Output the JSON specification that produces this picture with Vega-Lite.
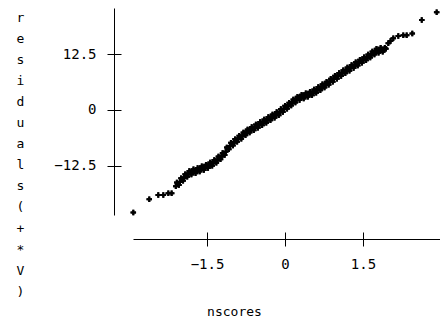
{
  "$schema": "https://vega.github.io/schema/vega-lite/v6.json",
  "width": 307,
  "height": 207,
  "autosize": "none",
  "padding": {"left": 133, "top": 8, "right": 0, "bottom": 110},
  "config": {
    "view": {"stroke": null},
    "axis": {"grid": false, "domainColor": "black", "tickColor": "black", "labelColor": "black", "titleColor": "black", "labelFont": "DejaVu Sans Mono", "titleFont": "DejaVu Sans Mono", "labelFontSize": 14, "titleFontSize": 13, "titleFontWeight": "normal"}
  },
  "data": {"values": [
    {"n": -2.917, "r": -22.9}, {"n": -2.61, "r": -19.9}, {"n": -2.437, "r": -19.0}, {"n": -2.34, "r": -19.0}, {"n": -2.244, "r": -18.6}, {"n": -2.18, "r": -18.6},
    {"n": -2.10, "r": -17.0}, {"n": -2.06, "r": -16.4}, {"n": -2.02, "r": -16.1}, {"n": -1.98, "r": -15.4}, {"n": -1.94, "r": -15.2}, {"n": -1.90, "r": -14.5},
    {"n": -1.86, "r": -14.3}, {"n": -1.82, "r": -13.9}, {"n": -1.78, "r": -13.9}, {"n": -1.74, "r": -13.6}, {"n": -1.70, "r": -13.6}, {"n": -1.66, "r": -13.3},
    {"n": -1.62, "r": -13.2}, {"n": -1.58, "r": -12.9}, {"n": -1.54, "r": -12.9}, {"n": -1.50, "r": -12.5}, {"n": -1.46, "r": -12.4}, {"n": -1.42, "r": -12.0},
    {"n": -1.38, "r": -11.9}, {"n": -1.34, "r": -11.4}, {"n": -1.30, "r": -11.2}, {"n": -1.26, "r": -10.6}, {"n": -1.22, "r": -10.4}, {"n": -1.18, "r": -9.8},
    {"n": -1.14, "r": -9.3}, {"n": -1.10, "r": -8.4}, {"n": -1.06, "r": -8.1}, {"n": -1.02, "r": -7.5}, {"n": -0.98, "r": -7.3}, {"n": -0.94, "r": -6.7},
    {"n": -0.90, "r": -6.5}, {"n": -0.86, "r": -6.0}, {"n": -0.82, "r": -5.8}, {"n": -0.78, "r": -5.2}, {"n": -0.74, "r": -5.1}, {"n": -0.70, "r": -4.6},
    {"n": -0.66, "r": -4.5}, {"n": -0.62, "r": -4.1}, {"n": -0.58, "r": -3.95}, {"n": -0.54, "r": -3.5}, {"n": -0.50, "r": -3.4}, {"n": -0.46, "r": -2.95},
    {"n": -0.42, "r": -2.85}, {"n": -0.38, "r": -2.4}, {"n": -0.34, "r": -2.3}, {"n": -0.30, "r": -1.85}, {"n": -0.26, "r": -1.7}, {"n": -0.22, "r": -1.3},
    {"n": -0.18, "r": -1.15}, {"n": -0.14, "r": -0.75}, {"n": -0.10, "r": -0.55}, {"n": -0.06, "r": -0.05}, {"n": -0.02, "r": 0.15}, {"n": 0.02, "r": 0.7},
    {"n": 0.06, "r": 0.85}, {"n": 0.10, "r": 1.4}, {"n": 0.14, "r": 1.6}, {"n": 0.18, "r": 2.1}, {"n": 0.22, "r": 2.25}, {"n": 0.26, "r": 2.7},
    {"n": 0.30, "r": 2.75}, {"n": 0.34, "r": 3.05}, {"n": 0.38, "r": 3.1}, {"n": 0.42, "r": 3.4}, {"n": 0.46, "r": 3.45}, {"n": 0.50, "r": 3.75},
    {"n": 0.54, "r": 3.85}, {"n": 0.58, "r": 4.3}, {"n": 0.62, "r": 4.4}, {"n": 0.66, "r": 4.85}, {"n": 0.70, "r": 5.0}, {"n": 0.74, "r": 5.45},
    {"n": 0.78, "r": 5.6}, {"n": 0.82, "r": 6.05}, {"n": 0.86, "r": 6.25}, {"n": 0.90, "r": 6.7}, {"n": 0.94, "r": 6.9}, {"n": 0.98, "r": 7.35},
    {"n": 1.02, "r": 7.55}, {"n": 1.06, "r": 8.0}, {"n": 1.10, "r": 8.2}, {"n": 1.14, "r": 8.6}, {"n": 1.18, "r": 8.8}, {"n": 1.22, "r": 9.2},
    {"n": 1.26, "r": 9.35}, {"n": 1.30, "r": 9.75}, {"n": 1.34, "r": 9.95}, {"n": 1.38, "r": 10.35}, {"n": 1.42, "r": 10.5}, {"n": 1.46, "r": 10.95},
    {"n": 1.50, "r": 11.1}, {"n": 1.54, "r": 11.5}, {"n": 1.58, "r": 11.7}, {"n": 1.62, "r": 12.1}, {"n": 1.66, "r": 12.3}, {"n": 1.70, "r": 12.8},
    {"n": 1.74, "r": 13.0}, {"n": 1.78, "r": 13.3}, {"n": 1.82, "r": 13.3}, {"n": 1.86, "r": 13.45}, {"n": 1.90, "r": 13.5}, {"n": 1.94, "r": 13.65},
    {"n": 1.987, "r": 14.9}, {"n": 2.03, "r": 15.4}, {"n": 2.083, "r": 16.0}, {"n": 2.179, "r": 16.5}, {"n": 2.275, "r": 16.7}, {"n": 2.34, "r": 16.7},
    {"n": 2.448, "r": 17.1}, {"n": 2.63, "r": 20.1}, {"n": 2.917, "r": 21.8},
    {"n": -2.08, "r": -16.2}, {"n": -2.04, "r": -16.75}, {"n": -2.00, "r": -15.25}, {"n": -1.96, "r": -15.8}, {"n": -1.92, "r": -14.35}, {"n": -1.88, "r": -14.9},
    {"n": -1.84, "r": -13.6}, {"n": -1.80, "r": -14.4}, {"n": -1.76, "r": -13.25}, {"n": -1.72, "r": -14.1}, {"n": -1.68, "r": -12.95}, {"n": -1.64, "r": -13.75},
    {"n": -1.60, "r": -12.55}, {"n": -1.56, "r": -13.4}, {"n": -1.52, "r": -12.2}, {"n": -1.48, "r": -12.95}, {"n": -1.44, "r": -11.7}, {"n": -1.40, "r": -12.45},
    {"n": -1.36, "r": -11.15}, {"n": -1.32, "r": -11.8}, {"n": -1.28, "r": -10.4}, {"n": -1.24, "r": -11.0}, {"n": -1.20, "r": -9.6}, {"n": -1.16, "r": -10.05},
    {"n": -1.12, "r": -8.35}, {"n": -1.08, "r": -8.75}, {"n": -1.04, "r": -7.3}, {"n": -1.00, "r": -7.9}, {"n": -0.96, "r": -6.5}, {"n": -0.92, "r": -7.1},
    {"n": -0.88, "r": -5.75}, {"n": -0.84, "r": -6.4}, {"n": -0.80, "r": -5.0}, {"n": -0.76, "r": -5.65}, {"n": -0.72, "r": -4.35}, {"n": -0.68, "r": -5.05},
    {"n": -0.64, "r": -3.8}, {"n": -0.60, "r": -4.53}, {"n": -0.56, "r": -3.23}, {"n": -0.52, "r": -3.95}, {"n": -0.48, "r": -2.68}, {"n": -0.44, "r": -3.4},
    {"n": -0.40, "r": -2.13}, {"n": -0.36, "r": -2.85}, {"n": -0.32, "r": -1.58}, {"n": -0.28, "r": -2.28}, {"n": -0.24, "r": -1.0}, {"n": -0.20, "r": -1.73},
    {"n": -0.16, "r": -0.45}, {"n": -0.12, "r": -1.15}, {"n": -0.08, "r": 0.2}, {"n": -0.04, "r": -0.45}, {"n": 0.00, "r": 0.93}, {"n": 0.04, "r": 0.28},
    {"n": 0.08, "r": 1.63}, {"n": 0.12, "r": 1.0}, {"n": 0.16, "r": 2.35}, {"n": 0.20, "r": 1.68}, {"n": 0.24, "r": 2.98}, {"n": 0.28, "r": 2.23},
    {"n": 0.32, "r": 3.4}, {"n": 0.36, "r": 2.58}, {"n": 0.40, "r": 3.75}, {"n": 0.44, "r": 2.93}, {"n": 0.48, "r": 4.1}, {"n": 0.52, "r": 3.3},
    {"n": 0.56, "r": 4.58}, {"n": 0.60, "r": 3.85}, {"n": 0.64, "r": 5.13}, {"n": 0.68, "r": 4.43}, {"n": 0.72, "r": 5.73}, {"n": 0.76, "r": 5.03},
    {"n": 0.80, "r": 6.33}, {"n": 0.84, "r": 5.65}, {"n": 0.88, "r": 6.98}, {"n": 0.92, "r": 6.3}, {"n": 0.96, "r": 7.63}, {"n": 1.00, "r": 6.95},
    {"n": 1.04, "r": 8.28}, {"n": 1.08, "r": 7.6}, {"n": 1.12, "r": 8.9}, {"n": 1.16, "r": 8.2}, {"n": 1.20, "r": 9.5}, {"n": 1.24, "r": 8.78},
    {"n": 1.28, "r": 10.05}, {"n": 1.32, "r": 9.35}, {"n": 1.36, "r": 10.65}, {"n": 1.40, "r": 9.93}, {"n": 1.44, "r": 11.23}, {"n": 1.48, "r": 10.53},
    {"n": 1.52, "r": 11.8}, {"n": 1.56, "r": 11.1}, {"n": 1.60, "r": 12.4}, {"n": 1.64, "r": 11.7}, {"n": 1.68, "r": 13.05}, {"n": 1.72, "r": 12.4},
    {"n": 1.76, "r": 13.65}, {"n": 1.80, "r": 12.8}, {"n": 1.84, "r": 13.88}, {"n": 1.88, "r": 12.98}, {"n": 1.92, "r": 13.9}
  ]},
  "resolve": {"axis": {"x": "independent", "y": "independent"}},
  "layer": [
    {
      "mark": {"type": "point", "shape": "M-1,0H1M0,-1V1", "filled": false, "stroke": "black", "strokeWidth": 2, "size": 30, "opacity": 1},
      "encoding": {
        "x": {"field": "n", "type": "quantitative", "scale": {"domain": [-2.923, 2.981], "nice": false, "zero": false},
          "axis": {"orient": "bottom", "offset": 24, "values": [-1.5, 0, 1.5], "labelExpr": "datum.value == 0 ? '0' : format(datum.value, '.1f')", "tickSize": 7, "labelPadding": 11, "labelBaseline": "top", "title": "nscores", "titleX": 101, "titleY": 76, "titleBaseline": "alphabetic", "titleAnchor": null, "titleAlign": "center"}},
        "y": {"field": "r", "type": "quantitative", "scale": {"domain": [-23.44, 22.77], "nice": false, "zero": false},
          "axis": {"orient": "left", "offset": 19, "values": [-12.5, 0, 12.5], "labelExpr": "datum.value == 0 ? '0' : format(datum.value, '.1f')", "tickSize": 7, "labelPadding": 11, "title": ["r","e","s","i","d","u","a","l","s","(","+","*","V",")"], "titleAngle": 0, "titleAlign": "center", "titleBaseline": "top", "titleX": -94, "titleY": 3, "titleLineHeight": 21.1, "titleAnchor": null}}
      }
    },
    {
      "mark": {"type": "point", "shape": "M-1,0H1M0,-1V1", "filled": false, "stroke": "black", "strokeWidth": 2, "size": 30, "opacity": 1},
      "encoding": {
        "x": {"field": "n", "type": "quantitative",
          "axis": {"orient": "bottom", "offset": 17, "values": [-1.5, 0, 1.5], "tickSize": 7, "labels": false, "domain": false, "title": null}},
        "y": {"field": "r", "type": "quantitative",
          "axis": {"orient": "left", "offset": 12, "values": [-12.5, 0, 12.5], "tickSize": 7, "labels": false, "domain": false, "title": null}}
      }
    }
  ]
}
